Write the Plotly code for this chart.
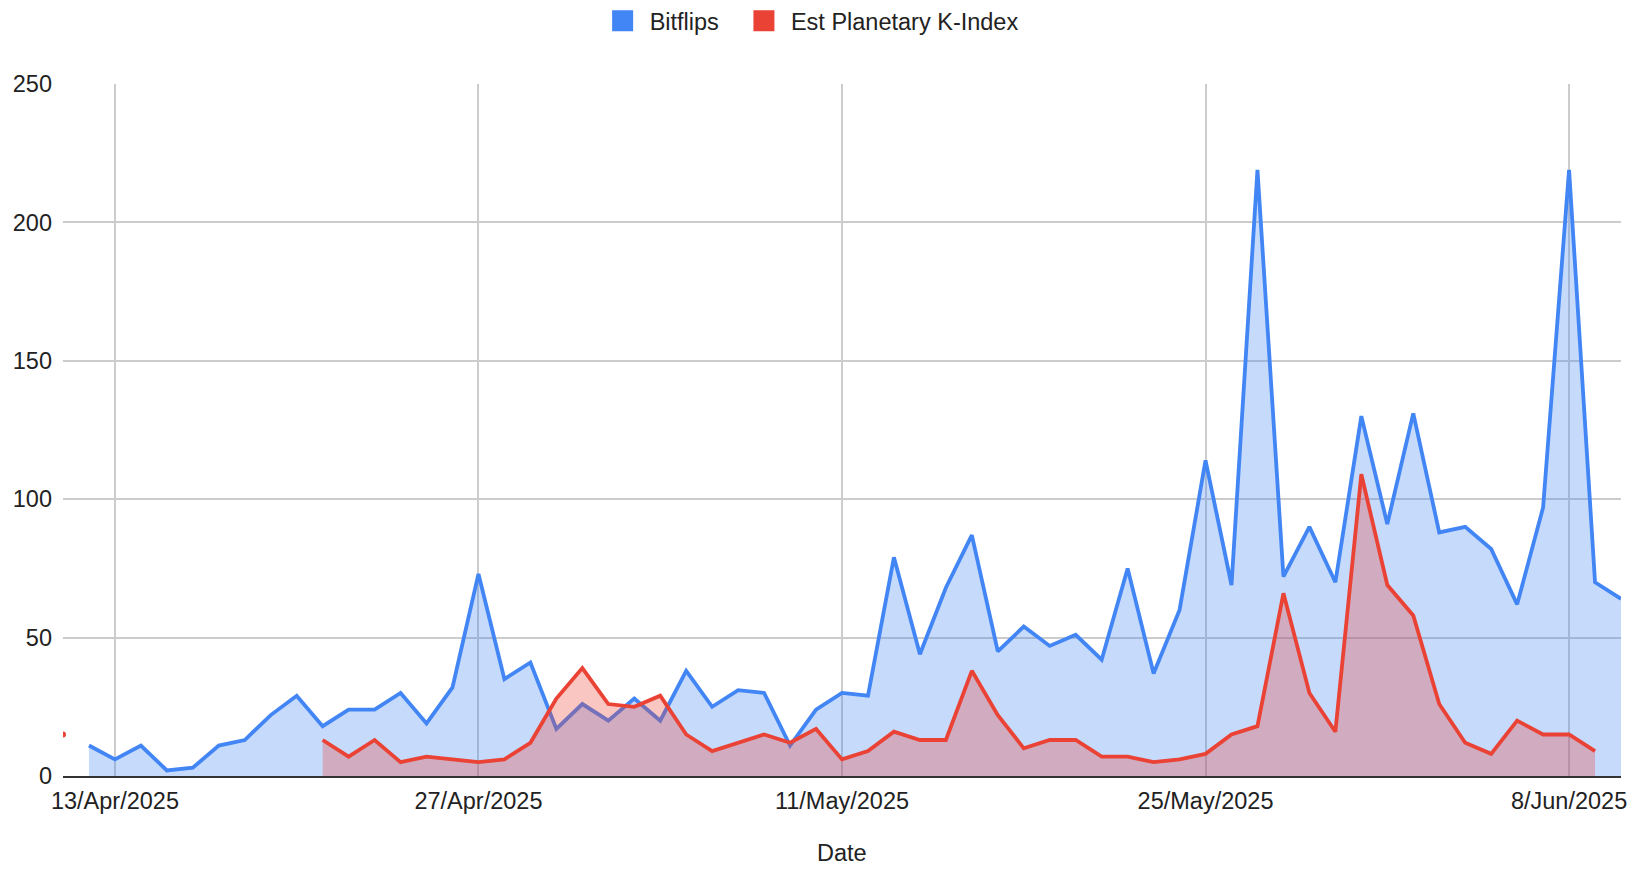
import datetime as dt
import plotly.graph_objects as go

# ---------------- data ----------------
start_date = "2025-04-11"
n_days = 61

bitflips = [
    None, 11, 6, 11, 2, 3, 11, 13, 22, 29,          # 11-20 Apr
    18, 24, 24, 30, 19, 32, 73, 35, 41, 17,          # 21-30 Apr
    26, 20, 28, 20, 38, 25, 31, 30, 11, 24,          # 1-10 May
    30, 29, 79, 44, 68, 87, 45, 54, 47, 51,          # 11-20 May
    42, 75, 37, 60, 114, 69, 219, 72, 90, 70, 130,   # 21-31 May
    91, 131, 88, 90, 82, 62, 97, 219, 70, 64,        # 1-10 Jun
]

k_index = [
    15, None, None, None, None, None, None, None, None, None,  # 11-20 Apr
    13, 7, 13, 5, 7, 6, 5, 6, 12, 28,                          # 21-30 Apr
    39, 26, 25, 29, 15, 9, 12, 15, 12, 17,                     # 1-10 May
    6, 9, 16, 13, 13, 38, 22, 10, 13, 13,                      # 11-20 May
    7, 7, 5, 6, 8, 15, 18, 66, 30, 16, 109,                    # 21-31 May
    69, 58, 26, 12, 8, 20, 15, 15, 9, None,                    # 1-10 Jun
]

series_names = ["Bitflips", "Est Planetary K-Index"]
x_title = "Date"
x_tick_dates = ["2025-04-13", "2025-04-27", "2025-05-11", "2025-05-25", "2025-06-08"]
x_tick_labels = ["13/Apr/2025", "27/Apr/2025", "11/May/2025", "25/May/2025", "8/Jun/2025"]
y_tick_vals = [0, 50, 100, 150, 200, 250]
x_range = ["2025-04-11", "2025-06-10"]
# --------------------------------------

d0 = dt.date.fromisoformat(start_date)
dates = [(d0 + dt.timedelta(days=i)).isoformat() for i in range(n_days)]

BLUE = "#4285F4"
RED = "#EA4335"
FILLS = {BLUE: "rgba(66,133,244,0.3)", RED: "rgba(234,67,53,0.3)"}
FONT = "Liberation Sans, Arial, sans-serif"
FS = 23.5


def runs(vals):
    """contiguous runs of non-missing values -> list of (start, end) index pairs"""
    out, s = [], None
    for i, v in enumerate(vals):
        if v is not None and s is None:
            s = i
        if v is None and s is not None:
            out.append((s, i))
            s = None
    if s is not None:
        out.append((s, len(vals)))
    return out


fig = go.Figure()

for name, vals, col in zip(series_names, [bitflips, k_index], [BLUE, RED]):
    for a, b in runs(vals):
        xs, ys = dates[a:b], vals[a:b]
        if b - a == 1:
            fig.add_trace(go.Scatter(
                x=xs, y=ys, mode="markers", name=name, legendgroup=name,
                marker=dict(size=6, color=col), showlegend=False,
            ))
        else:
            fig.add_trace(go.Scatter(
                x=xs, y=ys, mode="lines", name=name, legendgroup=name,
                line=dict(color=col, width=3.8), fill="tozeroy",
                fillcolor=FILLS[col], showlegend=False,
            ))

# legend proxies (square swatches like the original)
for i, (name, col) in enumerate(zip(series_names, [BLUE, RED])):
    pad = "\u00a0\u00a0" if i < len(series_names) - 1 else ""
    fig.add_trace(go.Scatter(
        x=[None], y=[None], mode="markers", name=name + pad, legendgroup=name,
        marker=dict(symbol="square", size=20, color=col,
                    line=dict(color=col, width=5)),
        showlegend=True,
    ))

# the page body has an 8px default margin, so the figure is sized to fit inside it
fig.update_layout(
    width=1630, height=861,
    margin=dict(l=55, r=17, t=76, b=93),
    paper_bgcolor="white", plot_bgcolor="white",
    font=dict(family=FONT, size=FS, color="#222222"),
    legend=dict(
        orientation="h", xref="container", yref="container",
        x=0.4918, xanchor="center", y=0.985, yanchor="middle",
        itemwidth=44,
        font=dict(size=FS, color="#222222"), bgcolor="rgba(0,0,0,0)",
    ),
    showlegend=True,
    annotations=[dict(
        text=x_title, xref="paper", yref="paper", x=0.5, y=-0.1329,
        xanchor="center", yanchor="bottom", showarrow=False,
        font=dict(size=FS, color="#222222"),
    )],
)

fig.update_xaxes(
    type="date", range=x_range,
    tickvals=x_tick_dates, ticktext=x_tick_labels,
    showgrid=True, gridcolor="#cccccc", gridwidth=1.5,
    showline=True, linecolor="#333333", linewidth=2,
    ticks="", tickfont=dict(size=FS, color="#222222"), ticklabelstandoff=3,
    zeroline=False, automargin=False,
)
fig.update_yaxes(
    range=[0, 250], tickvals=y_tick_vals,
    showgrid=True, gridcolor="#cccccc", gridwidth=1.5,
    zeroline=False, ticks="", tickfont=dict(size=FS, color="#222222"),
    ticklabelstandoff=10, automargin=False,
)

fig.write_html("out.html")
